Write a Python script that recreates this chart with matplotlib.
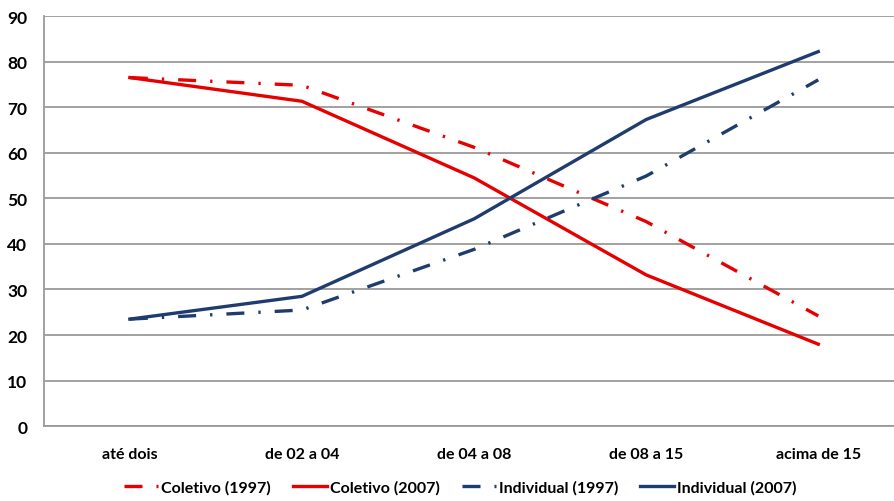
import matplotlib.pyplot as plt
import numpy as np

plt.rcParams["font.family"] = ["Lato", "DejaVu Sans"]

categories = ["até dois", "de 02 a 04", "de 04 a 08", "de 08 a 15", "acima de 15"]
coletivo_1997 = [76.5, 74.8, 61.2, 44.9, 24.2]
coletivo_2007 = [76.5, 71.3, 54.5, 33.2, 18.0]
individual_1997 = [23.5, 25.5, 38.8, 54.9, 76.0]
individual_2007 = [23.5, 28.5, 45.5, 67.3, 82.2]

RED = "#E60000"
NAVY = "#1F3C6E"
LW = 2.4
DASHDOT = (0, (5.4, 4.2, 0.7, 4.2))

fig = plt.figure(figsize=(8.94, 5.02), dpi=100)
ax = fig.add_axes([0.049, 0.149, 0.951, 0.817])

x = np.arange(len(categories))
ax.plot(x, coletivo_1997, color=RED, lw=LW, linestyle=DASHDOT, label="Coletivo (1997)")
ax.plot(x, coletivo_2007, color=RED, lw=LW, label="Coletivo (2007)")
ax.plot(x, individual_1997, color=NAVY, lw=LW, linestyle=DASHDOT, label="Individual (1997)")
ax.plot(x, individual_2007, color=NAVY, lw=LW, label="Individual (2007)")

ax.set_xlim(-0.5, 4.44)
ax.set_ylim(0, 90)
ax.set_yticks(range(0, 91, 10))
ax.set_xticks(x)
ax.set_xticklabels(categories, fontweight="bold", fontsize=11.5)
for lab in ax.get_yticklabels():
    lab.set_fontweight("bold")
    lab.set_fontsize(12.5)
ax.tick_params(length=0)
ax.tick_params(axis="x", pad=15)
ax.tick_params(axis="y", pad=12)

ax.grid(axis="y", color="#9A9A9A", lw=1.3)
ax.set_axisbelow(True)
for side in ["top", "right"]:
    ax.spines[side].set_visible(False)
for side in ["left", "bottom"]:
    ax.spines[side].set_color("#9A9A9A")
    ax.spines[side].set_linewidth(1.3)

fig.legend(loc="lower center", bbox_to_anchor=(0.515, -0.015), ncol=4, frameon=False,
           prop={"weight": "bold", "size": 11.5}, handlelength=2.1, columnspacing=1.4,
           handletextpad=0.2)

fig.savefig("out.png", dpi=100)
